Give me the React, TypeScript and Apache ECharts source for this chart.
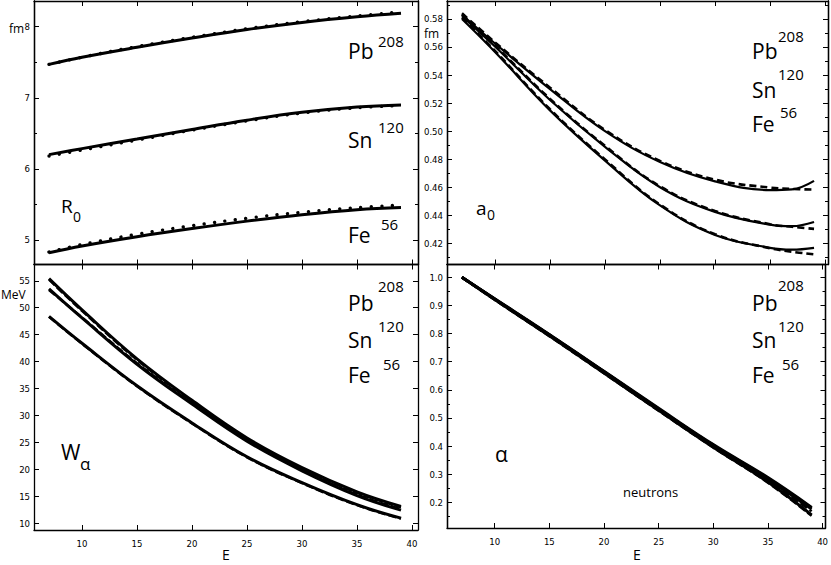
import React, { useEffect, useRef } from "react";
import * as echarts from "echarts";

// ---------- data ----------
const X_TICKS = [10, 15, 20, 25, 30, 35, 40];

// R0 panel (fm)
const E_R0 = [7, 10, 15, 20, 25, 30, 35, 39];
const R0_PB = [7.47, 7.57, 7.71, 7.84, 7.96, 8.06, 8.14, 8.19];
const R0_PB_DOT = [7.47, 7.57, 7.72, 7.85, 7.97, 8.07, 8.15, 8.21];
const R0_SN = [6.2, 6.285, 6.42, 6.555, 6.685, 6.795, 6.87, 6.9];
const R0_SN_DOT = [6.18, 6.265, 6.405, 6.545, 6.675, 6.785, 6.86, 6.89];
const R0_FE = [4.82, 4.915, 5.045, 5.16, 5.265, 5.355, 5.425, 5.455];
const R0_FE_DOT = [4.83, 4.935, 5.08, 5.2, 5.305, 5.39, 5.455, 5.49];
const R0_TICKS = [5, 6, 7, 8];
const R0_MINOR = [5.5, 6.5, 7.5];

// a0 panel (fm)
const E_A0 = [7, 10, 15, 20, 25, 30, 35, 37, 39];
const A0_PB = [0.583, 0.5625, 0.53, 0.5, 0.478, 0.4642, 0.458, 0.4585, 0.4645];
const A0_PB_D = [0.584, 0.5633, 0.531, 0.5008, 0.4788, 0.4654, 0.4597, 0.4588, 0.4583];
const A0_SN = [0.582, 0.5603, 0.5222, 0.4888, 0.46, 0.4424, 0.4333, 0.4322, 0.4352];
const A0_SN_D = [0.583, 0.561, 0.523, 0.4895, 0.4606, 0.443, 0.4336, 0.4318, 0.4303];
const A0_FE = [0.58, 0.5565, 0.5148, 0.479, 0.447, 0.426, 0.4168, 0.4155, 0.4168];
const A0_FE_D = [0.581, 0.5572, 0.5156, 0.4798, 0.4476, 0.4265, 0.4165, 0.414, 0.4121];
const A0_TICKS = [0.42, 0.44, 0.46, 0.48, 0.5, 0.52, 0.54, 0.56, 0.58];
const A0_MINOR = [0.41, 0.43, 0.45, 0.47, 0.49, 0.51, 0.53, 0.55, 0.57, 0.59];

// W_alpha panel (MeV)
const E_W = [7, 10, 15, 20, 25, 30, 35, 39];
const W_PB = [55.4, 49.6, 40.5, 32.8, 25.8, 20.3, 15.8, 13.1];
const W_PB_D = [55.2, 49.4, 40.3, 32.6, 25.6, 20.1, 15.6, 12.9];
const W_SN = [53.5, 48.1, 39.5, 32.1, 25.2, 19.7, 15.1, 12.4];
const W_SN_D = [53.3, 48.2, 39.7, 32.3, 25.4, 19.9, 15.3, 12.6];
const W_FE = [48.4, 43.4, 35.5, 28.6, 22.3, 17.5, 13.4, 10.9];
const W_FE_D = [48.3, 43.3, 35.4, 28.5, 22.2, 17.4, 13.3, 10.8];
const W_TICKS = [10, 15, 20, 25, 30, 35, 40, 45, 50, 55];

// alpha panel
const E_AL = [7, 10, 15, 20, 25, 30, 35, 39];
const AL_PB = [1.0, 0.924, 0.797, 0.666, 0.534, 0.405, 0.288, 0.182];
const AL_PB_D = [1.0, 0.923, 0.796, 0.665, 0.533, 0.404, 0.286, 0.18];
const AL_SN = [1.0, 0.923, 0.795, 0.664, 0.531, 0.401, 0.281, 0.176];
const AL_SN_D = [1.0, 0.922, 0.794, 0.662, 0.529, 0.399, 0.277, 0.168];
const AL_FE = [1.0, 0.921, 0.792, 0.66, 0.527, 0.396, 0.272, 0.155];
const AL_FE_D = [1.0, 0.92, 0.791, 0.659, 0.526, 0.395, 0.27, 0.152];
const AL_TICKS = [0.2, 0.3, 0.4, 0.5, 0.6, 0.7, 0.8, 0.9, 1.0];
const AL_MINOR = [0.15, 0.25, 0.35, 0.45, 0.55, 0.65, 0.75, 0.85, 0.95];

const NUCLEI = ["Pb", "Sn", "Fe"];
const MASS = ["208", "120", "56"];

const TICK_FONT = '"DejaVu Sans Condensed", "Liberation Sans Narrow", "DejaVu Sans", sans-serif';
const LABEL_FONT = '"Open Sans", "Noto Sans", sans-serif';

function buildOption() {
  const grids = [
    { left: 34, top: 1, width: 384, height: 263.5, xMin: 5.636, xMax: 40.545, yMin: 4.655, yMax: 8.361, labelX: false },
    { left: 447, top: 1, width: 381, height: 263.5, xMin: 5.636, xMax: 40.27, yMin: 0.4049, yMax: 0.5928, labelX: false },
    { left: 34, top: 264.5, width: 384, height: 265.5, xMin: 5.636, xMax: 40.545, yMin: 8.7, yMax: 58.03, labelX: true },
    { left: 447, top: 264.5, width: 381, height: 263.5, xMin: 5.636, xMax: 40.27, yMin: 0.1086, yMax: 1.0455, labelX: true },
  ];
  const yMajor = [R0_TICKS, A0_TICKS, W_TICKS, AL_TICKS];
  const yMinor = [R0_MINOR, A0_MINOR, [], AL_MINOR];
  const yFmt = [
    (v: number) => String(v),
    (v: number) => v.toFixed(2),
    (v: number) => String(v),
    (v: number) => v.toFixed(1),
  ];

  const axisLine = { show: true, onZero: false, lineStyle: { color: "#000", width: 1.3 } };
  const xAxis: any[] = [];
  const yAxis: any[] = [];
  const xIdx: number[] = [];
  const yIdx: number[] = [];

  grids.forEach((g, gi) => {
    xIdx.push(xAxis.length);
    xAxis.push({
      type: "value", gridIndex: gi, position: "bottom", min: g.xMin, max: g.xMax,
      axisLine, splitLine: { show: false },
      axisTick: { show: true, inside: true, length: 5, customValues: X_TICKS, lineStyle: { color: "#000", width: 1 } },
      axisLabel: g.labelX
        ? { show: true, customValues: X_TICKS, fontFamily: TICK_FONT, fontSize: 9.5, color: "#000", margin: 8 }
        : { show: false },
    });
    xAxis.push({
      type: "value", gridIndex: gi, position: "top", min: g.xMin, max: g.xMax,
      axisLine, splitLine: { show: false },
      axisTick: { show: true, inside: true, length: 5, customValues: X_TICKS, lineStyle: { color: "#000", width: 1 } },
      axisLabel: { show: false },
    });
    yIdx.push(yAxis.length);
    yAxis.push({
      type: "value", gridIndex: gi, position: "left", min: g.yMin, max: g.yMax,
      axisLine, splitLine: { show: false },
      axisTick: { show: true, inside: true, length: 5, customValues: yMajor[gi], lineStyle: { color: "#000", width: 1 } },
      axisLabel: { show: true, customValues: yMajor[gi], formatter: yFmt[gi], fontFamily: TICK_FONT, fontSize: 9.5, color: "#000", margin: 4 },
    });
    yAxis.push({
      type: "value", gridIndex: gi, position: "right", min: g.yMin, max: g.yMax,
      axisLine, splitLine: { show: false },
      axisTick: { show: true, inside: true, length: 5, customValues: yMajor[gi], lineStyle: { color: "#000", width: 1 } },
      axisLabel: { show: false },
    });
    if (yMinor[gi].length) {
      ["left", "right"].forEach((pos) => {
        yAxis.push({
          type: "value", gridIndex: gi, position: pos, min: g.yMin, max: g.yMax,
          axisLine, splitLine: { show: false },
          axisTick: { show: true, inside: true, length: 3, customValues: yMinor[gi], lineStyle: { color: "#000", width: 1 } },
          axisLabel: { show: false },
        });
      });
    }
  });

  const series: any[] = [];
  const addLine = (gi: number, xs: number[], ys: number[], style: any, z = 2) => {
    series.push({
      type: "line",
      xAxisIndex: xIdx[gi],
      yAxisIndex: yIdx[gi],
      data: xs.map((x, i) => [x, ys[i]]),
      smooth: 0.4,
      showSymbol: false,
      symbol: "none",
      lineStyle: { color: "#000", ...style },
      z,
      silent: true,
    });
  };

  const solid3 = { width: 3, type: "solid" };
  const dotted = { width: 3.4, type: [0.01, 10.5], cap: "round" };
  const dashed = { width: 2.6, type: [7, 4] };

  [R0_PB, R0_SN, R0_FE].forEach((d) => addLine(0, E_R0, d, solid3));
  [R0_PB_DOT, R0_SN_DOT, R0_FE_DOT].forEach((d) => addLine(0, E_R0, d, dotted, 3));

  [A0_PB, A0_SN, A0_FE].forEach((d) => addLine(1, E_A0, d, { width: 2.2, type: "solid" }));
  [A0_PB_D, A0_SN_D, A0_FE_D].forEach((d) => addLine(1, E_A0, d, dashed, 3));

  [W_PB, W_SN, W_FE].forEach((d) => addLine(2, E_W, d, solid3));
  [W_PB_D, W_SN_D, W_FE_D].forEach((d) => addLine(2, E_W, d, { width: 2.4, type: [8, 3] }, 3));

  [AL_PB, AL_SN, AL_FE].forEach((d) => addLine(3, E_AL, d, solid3));
  [AL_PB_D, AL_SN_D, AL_FE_D].forEach((d) => addLine(3, E_AL, d, { width: 2.6, type: [8, 3] }, 3));

  // ---------- texts ----------
  const T = (x: number, baseline: number, text: string, fs: number, family = LABEL_FONT) => ({
    type: "text",
    x,
    y: baseline - 0.37 * fs,
    z: 100,
    silent: true,
    style: { text, fontSize: fs, fontFamily: family, fill: "#000", align: "left", verticalAlign: "middle" },
  });

  const graphic: any[] = [];
  const labelSets = [
    { x: 348, sx: 378, base: [59, 148, 243], sup: [47, 133, 230], supDx: [0, 0, 3] },
    { x: 752, sx: 778, base: [59, 98, 132], sup: [42, 80, 118], supDx: [0, 0, 2] },
    { x: 348, sx: 378, base: [311, 348, 383], sup: [292, 332, 370], supDx: [0, 0, 5] },
    { x: 752, sx: 778, base: [311, 348, 383], sup: [291, 332, 370], supDx: [0, 0, 4] },
  ];
  labelSets.forEach((ls) => {
    NUCLEI.forEach((n, i) => {
      graphic.push(T(ls.x, ls.base[i], n, 21));
      graphic.push(T(ls.sx + ls.supDx[i], ls.sup[i], MASS[i], 15));
    });
  });

  graphic.push(T(61, 213, "R", 19));
  graphic.push(T(73, 222, "0", 14));
  graphic.push(T(476, 215, "a", 19));
  graphic.push(T(487, 220, "0", 14));
  graphic.push(T(61, 460, "W", 21));
  graphic.push(T(80, 470, "α", 17));
  graphic.push(T(495, 462, "α", 21));
  graphic.push(T(623, 497, "neutrons", 13));

  // units
  graphic.push(T(9, 33, "fm", 12));
  graphic.push(T(424, 38, "fm", 12));
  graphic.push(T(1, 299, "MeV", 12));

  // axis names
  graphic.push(T(222, 560, "E", 14));
  graphic.push(T(633, 560, "E", 14));

  return {
    animation: false,
    backgroundColor: "#fff",
    grid: grids.map((g) => ({ left: g.left, top: g.top, width: g.width, height: g.height, containLabel: false })),
    xAxis,
    yAxis,
    series,
    graphic,
  };
}

export default function App() {
  const ref = useRef<HTMLDivElement>(null);
  useEffect(() => {
    if (!ref.current) return;
    const chart = echarts.init(ref.current, null, { renderer: "svg" });
    chart.setOption(buildOption() as any);
    return () => chart.dispose();
  }, []);
  return (
    <div
      ref={ref}
      style={{ position: "absolute", left: 0, top: 0, width: 831, height: 565, background: "#fff" }}
    />
  );
}
